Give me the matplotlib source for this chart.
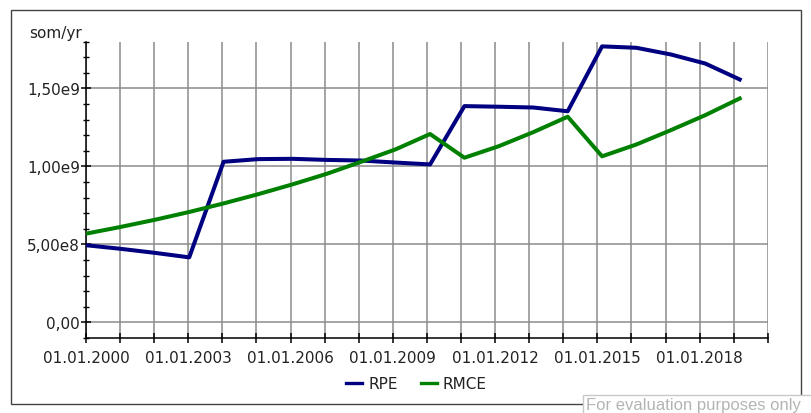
import matplotlib
matplotlib.use('Agg')
import matplotlib.pyplot as plt
import matplotlib.dates as mdates
from matplotlib.ticker import FixedLocator, MultipleLocator, FuncFormatter
from matplotlib.lines import Line2D
from matplotlib.patches import Rectangle
import pandas as pd

# data
dates = ['2000-01-01', '2001-01-04', '2002-01-08', '2003-01-11', '2004-01-14',
         '2005-01-18', '2006-01-21', '2007-01-25', '2008-01-28', '2009-02-01',
         '2010-02-04', '2011-02-07', '2012-02-11', '2013-02-14', '2014-02-18',
         '2015-02-21', '2016-02-24', '2017-02-28', '2018-03-03', '2019-03-07']
rpe = [4.95e8, 4.72e8, 4.46e8, 4.17e8, 1.030e9, 1.047e9, 1.049e9, 1.042e9, 1.038e9, 1.025e9,
       1.013e9, 1.387e9, 1.383e9, 1.378e9, 1.354e9, 1.770e9, 1.761e9, 1.718e9, 1.660e9, 1.558e9]
rmce = [5.69e8, 6.12e8, 6.58e8, 7.08e8, 7.63e8, 8.22e8, 8.85e8, 9.53e8, 1.030e9, 1.110e9,
        1.208e9, 1.056e9, 1.130e9, 1.220e9, 1.319e9, 1.065e9, 1.141e9, 1.233e9, 1.329e9, 1.436e9]
series_names = ['RPE', 'RMCE']
series_colors = ['#000080', '#008000']
y_ticks = [0, 5e8, 1e9, 1.5e9]
y_tick_labels = ['0,00', '5,00e8', '1,00e9', '1,50e9']
y_unit = 'som/yr'

x = pd.to_datetime(dates)

W, H = 811, 414
fig = plt.figure(figsize=(W / 100, H / 100), dpi=100)

# outer frame
fig.patches.append(Rectangle((10.5 / W, 1 - 404.5 / H), (800.5 - 10.5) / W, (404.5 - 10.5) / H,
                             transform=fig.transFigure, fill=False, edgecolor='#444444', lw=1.0))

ax = fig.add_axes([86 / W, 1 - 339 / H, (767.7 - 86) / W, (339 - 42.7) / H])
ax.patch.set_alpha(0)

for vals, name, col in zip([rpe, rmce], series_names, series_colors):
    ax.plot(x, vals, color=col, lw=2.9, label=name, zorder=3)

ax.set_xlim(pd.Timestamp('2000-01-01'), pd.Timestamp('2020-01-01'))
ax.set_ylim(-1e8, 1.8e9)

# x axis: yearly ticks, label every third year
ax.xaxis.set_major_locator(mdates.YearLocator(1))
def fmt_date(val, pos):
    d = mdates.num2date(val)
    if (d.year - 2000) % 3 == 0 and d.year < 2020:
        return d.strftime('%d.%m.%Y')
    return ''
ax.xaxis.set_major_formatter(FuncFormatter(fmt_date))

ax.yaxis.set_major_locator(FixedLocator(y_ticks))
ax.set_yticklabels(y_tick_labels)
ax.yaxis.set_minor_locator(MultipleLocator(1e8))

ax.tick_params(axis='x', direction='inout', length=7.9, width=1.1, pad=4.5,
               labelsize=11, labelcolor='#222222')
ax.tick_params(axis='y', which='major', direction='inout', length=7.2, width=1.1, pad=0.7,
               labelsize=11, labelcolor='#222222')
ax.tick_params(axis='y', which='minor', direction='inout', length=5, width=1.0)

ax.grid(True, which='major', color='#8c8c8c', lw=1.1)
ax.set_axisbelow(True)
for s in ['top', 'right']:
    ax.spines[s].set_visible(False)
for s in ['left', 'bottom']:
    ax.spines[s].set_linewidth(1.1)
    ax.spines[s].set_color('black')

fig.text(81.7 / W, 1 - 33.3 / H, y_unit, ha='right', va='center', fontsize=11, color='#222222')

# legend
handles = [Line2D([], [], color=c, lw=2.4) for c in series_colors]
fig.legend(handles, series_names, loc='center', bbox_to_anchor=(416.5 / W, 1 - 385 / H),
           ncol=2, frameon=False, fontsize=11, handlelength=1.05, handletextpad=0.4,
           columnspacing=1.5, labelcolor='#222222')

# evaluation watermark box
fig.patches.append(Rectangle((582.7 / W, 1 - 418 / H), 240 / W, (418 - 395.7) / H,
                             transform=fig.transFigure, facecolor='white',
                             edgecolor='#c8c8c8', lw=1.0))
fig.text(586 / W, 1 - 410.5 / H, 'For evaluation purposes only', ha='left', va='baseline',
         fontsize=12, color='#b4b4b4', family='Liberation Sans')

fig.savefig('out.png', dpi=100)
